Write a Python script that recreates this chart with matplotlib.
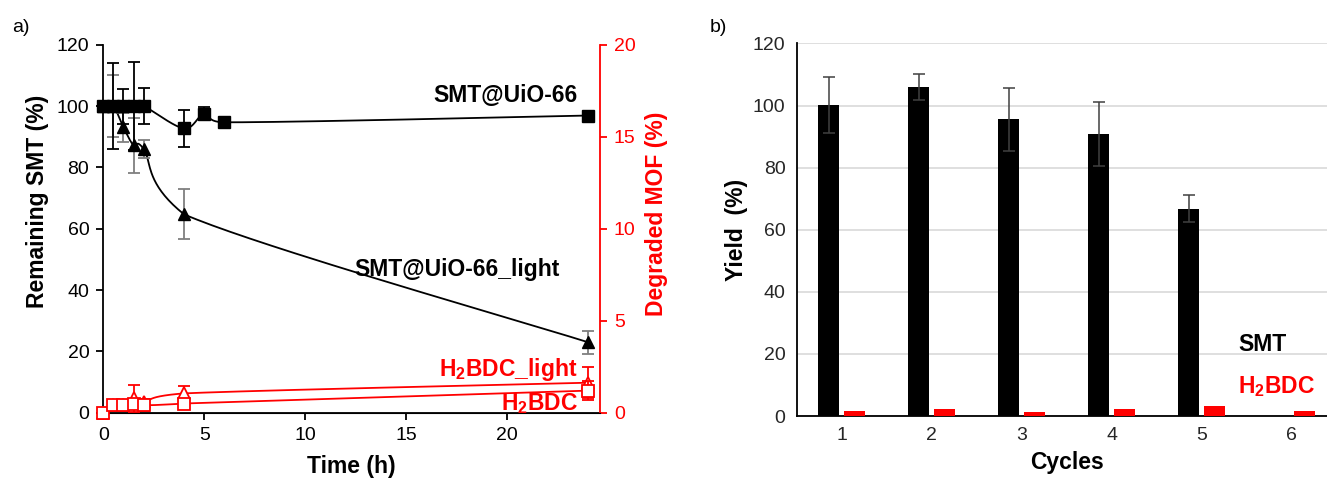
import numpy as np
import matplotlib
matplotlib.use("Agg")
import matplotlib.pyplot as plt

plt.rcParams['font.family'] = ['Liberation Sans', 'DejaVu Sans']
plt.rcParams['mathtext.fontset'] = 'custom'
plt.rcParams['mathtext.rm'] = 'Liberation Sans'
plt.rcParams['mathtext.bf'] = 'Liberation Sans:bold'

# === DATA: panel a) ===
t_smt = [0, 0.5, 1, 1.5, 2, 4, 5, 6, 24]
smt_dark = [100, 100, 100, 100, 100, 92.7, 97.5, 94.7, 96.9]
smt_dark_err = [0, 13.9, 5.7, 14.4, 6.0, 6.1, 2.2, 0, 0]

t_light = [0, 0.5, 1, 1.5, 2, 4, 24]
smt_light = [100, 100, 93.0, 87.2, 86.0, 64.7, 23.0]
smt_light_err = [0, 10.0, 4.8, 9.0, 3.0, 8.2, 3.8]

t_bdc = [0, 0.5, 1, 1.5, 2, 4, 24]
bdc_dark = [0, 0.42, 0.42, 0.5, 0.42, 0.5, 1.2]
bdc_dark_err = [0, 0, 0, 0, 0.32, 0, 0.5]
bdc_light = [0, 0.42, 0.42, 0.78, 0.58, 1.05, 1.63]
bdc_light_err = [0, 0, 0, 0.75, 0, 0.4, 0.85]

# === DATA: panel b) ===
cycles = [1, 2, 3, 4, 5, 6]
yield_smt = [100.3, 106.0, 95.6, 90.9, 66.8, 0]
yield_smt_err = [9.0, 4.3, 10.1, 10.4, 4.3, 0]
yield_bdc = [1.7, 2.25, 1.2, 2.25, 3.2, 1.7]


def excel_smooth(x, y, n=40):
    # cubic bezier through the points, like Excel's "smoothed line"
    pts = np.column_stack([x, y]).astype(float)
    out = [pts[0]]
    s = np.linspace(0, 1, n)[1:, None]
    for i in range(len(pts) - 1):
        p0 = pts[i - 1] if i > 0 else pts[i]
        p1, p2 = pts[i], pts[i + 1]
        p3 = pts[i + 2] if i + 2 < len(pts) else pts[i + 1]
        c1 = p1 + (p2 - p0) / 6
        c2 = p2 - (p3 - p1) / 6
        # keep control points inside the segment's time range (no loops)
        c1[0] = np.clip(c1[0], p1[0], p2[0])
        c2[0] = np.clip(c2[0], p1[0], p2[0])
        seg = (1 - s)**3 * p1 + 3 * (1 - s)**2 * s * c1 + 3 * (1 - s) * s**2 * c2 + s**3 * p2
        out.extend(seg)
    out = np.array(out)
    return out[:, 0], out[:, 1]


def errbars(ax, x, y, e, color, z):
    x, y, e = np.array(x), np.array(y), np.array(e)
    m = e > 0
    eb = ax.errorbar(x[m], y[m], yerr=e[m], fmt='none', ecolor=color,
                     elinewidth=1.3, capsize=4, capthick=1.3, zorder=z)
    for art in eb.lines[1] + eb.lines[2]:
        art.set_clip_on(False)


fig = plt.figure(figsize=(13.27, 4.79), dpi=100)

# === PANEL a) ===
ax = fig.add_axes([0.0778, 0.1384, 0.3743, 0.7683])
ax_r = ax.twinx()

sx, sy = excel_smooth(t_light, smt_light)
ax.plot(sx, sy, color='black', lw=1.3, zorder=2)
errbars(ax, t_light, smt_light, smt_light_err, '#7f7f7f', 3)
ax.plot(t_light, smt_light, '^', color='black', ms=8, zorder=4, clip_on=False)

sx, sy = excel_smooth(t_smt, smt_dark)
ax.plot(sx, sy, color='black', lw=1.3, zorder=5)
errbars(ax, t_smt, smt_dark, smt_dark_err, 'black', 6)
ax.plot(t_smt, smt_dark, 's', color='black', ms=8.5, zorder=7, clip_on=False)

sx, sy = excel_smooth(t_bdc, bdc_light)
ax_r.plot(sx, sy, color='red', lw=1.3, zorder=2)
errbars(ax_r, t_bdc, bdc_light, bdc_light_err, 'red', 3)
ax_r.plot(t_bdc, bdc_light, '^', color='red', mfc='white', mew=1.3, ms=8, zorder=4,
          clip_on=False)

sx, sy = excel_smooth(t_bdc, bdc_dark)
ax_r.plot(sx, sy, color='red', lw=1.3, zorder=5)
errbars(ax_r, t_bdc, bdc_dark, bdc_dark_err, 'red', 6)
ax_r.plot(t_bdc, bdc_dark, 's', color='red', mfc='white', mew=1.3, ms=8, zorder=7,
          clip_on=False)

ax.set_xlim(0, 24.6)
ax.set_ylim(0, 120)
ax.set_xticks([0, 5, 10, 15, 20])
ax.set_yticks(range(0, 121, 20))
ax_r.set_ylim(0, 20)
ax_r.set_yticks([0, 5, 10, 15, 20])

ax.spines['top'].set_visible(False)
ax_r.spines['top'].set_visible(False)
ax_r.spines['left'].set_visible(False)
ax.spines['right'].set_visible(False)
ax_r.spines['right'].set_color('red')
ax_r.spines['right'].set_linewidth(1.3)
ax.spines['left'].set_linewidth(1.3)
ax.spines['bottom'].set_linewidth(1.3)
ax.tick_params(direction='out', length=5, width=1.3, labelsize=14, pad=5)
ax_r.tick_params(direction='out', length=5, width=1.3, labelsize=14, pad=5,
                 colors='red')

ax.set_xlabel('Time (h)', fontsize=16.5, fontweight='bold', va='center')
ax.xaxis.set_label_coords(0.5, -0.145)
ax.set_ylabel('Remaining SMT (%)', fontsize=16.5, fontweight='bold', va='center')
ax.yaxis.set_label_coords(-0.133, 0.575)
ax_r.set_ylabel('Degraded MOF (%)', fontsize=16.5, fontweight='bold', color='red',
                va='center', rotation=90)
ax_r.yaxis.set_label_coords(1.113, 0.54)

ax.text(23.5, 101.2, 'SMT@UiO-66', fontsize=16.5, fontweight='bold', ha='right',
        va='baseline', zorder=10)
ax.text(22.6, 44.6, 'SMT@UiO-66_light', fontsize=16.5, fontweight='bold', ha='right',
        va='baseline', zorder=10)
ax_r.text(23.5, 2.0, r'H$_\mathbf{2}$BDC_light', fontsize=16.5, fontweight='bold',
          color='red', ha='right', va='baseline', zorder=10)
ax_r.text(23.5, 0.12, r'H$_\mathbf{2}$BDC', fontsize=16.5, fontweight='bold',
          color='red', ha='right', va='baseline', zorder=10, clip_on=False)

fig.text(12 / 1327, 1 - 28 / 479, 'a)', fontsize=14, va='center', ha='left')

# === PANEL b) ===
bx = fig.add_axes([0.6004, 0.1315, 0.4068, 0.7777])
cyc = np.array(cycles)
bw = 0.23
bx.bar(cyc - 0.145, yield_smt, width=bw, color='black', zorder=3)
bx.bar(cyc + 0.145, yield_bdc, width=bw, color='#ff0000', zorder=3)
m = np.array(yield_smt_err) > 0
bx.errorbar(cyc[m] - 0.145, np.array(yield_smt)[m], yerr=np.array(yield_smt_err)[m],
            fmt='none', ecolor='#404040', elinewidth=1.1, capsize=4, capthick=1.1,
            zorder=4)

bx.set_xlim(0.5, 6.5)
bx.set_ylim(0, 120)
bx.set_xticks(cycles)
bx.set_yticks(range(0, 121, 20))
bx.grid(axis='y', color='#d9d9d9', lw=1.2, zorder=0)
bx.set_axisbelow(True)
for sp in ['top', 'right']:
    bx.spines[sp].set_visible(False)
bx.spines['left'].set_linewidth(1.3)
bx.spines['bottom'].set_linewidth(1.3)
bx.tick_params(length=0, labelsize=14, pad=8, colors='#262626')

bx.set_xlabel('Cycles', fontsize=16.5, fontweight='bold', va='center')
bx.xaxis.set_label_coords(0.5, -0.126)
bx.set_ylabel('Yield  (%)', fontsize=16.5, fontweight='bold', va='center')
bx.yaxis.set_label_coords(-0.112, 0.5)

bx.text(5.41, 20.8, 'SMT', fontsize=16.5, fontweight='bold', ha='left', va='baseline')
bx.text(5.41, 7.4, r'H$_\mathbf{2}$BDC', fontsize=16.5, fontweight='bold', color='red',
        ha='left', va='baseline')

fig.text(710 / 1327, 1 - 28 / 479, 'b)', fontsize=14, va='center', ha='left')

fig.savefig('out.png', dpi=100)
